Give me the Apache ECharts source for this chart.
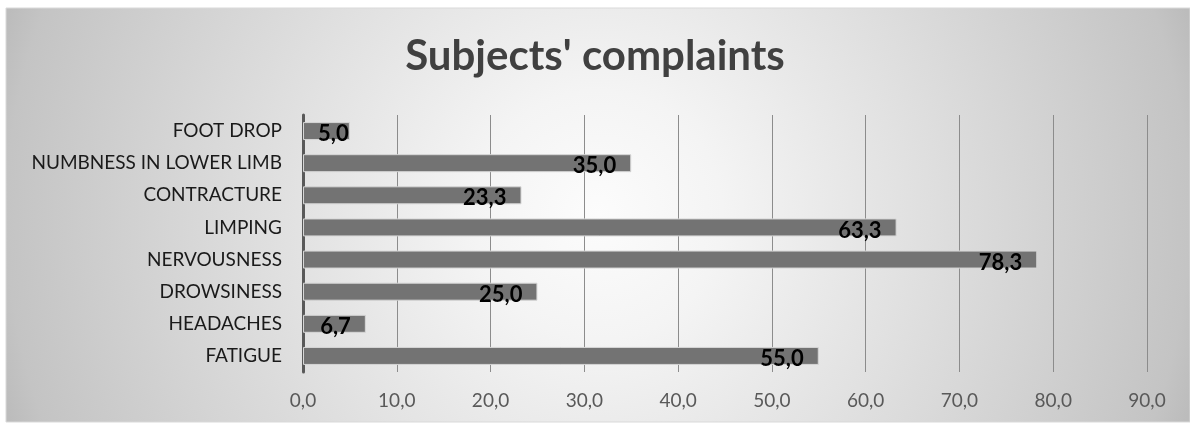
<!DOCTYPE html>
<html>
<head>
<meta charset="utf-8">
<style>
  html, body { margin: 0; padding: 0; background: #ffffff; }
  #chart { width: 1190px; height: 425px; }
</style>
<script src="https://cdn.jsdelivr.net/npm/echarts@6/dist/echarts.min.js"></script>
</head>
<body>
<div id="chart"></div>
<script>
// Complaint categories, listed top to bottom
const categories = [
  'FOOT DROP',
  'NUMBNESS IN LOWER LIMB',
  'CONTRACTURE',
  'LIMPING',
  'NERVOUSNESS',
  'DROWSINESS',
  'HEADACHES',
  'FATIGUE'
];
// Share of subjects reporting each complaint (%)
const values = [5.0, 35.0, 23.3, 63.3, 78.3, 25.0, 6.7, 55.0];
// Value axis range
const axisMin = 0;
const axisMax = 90;
const axisStep = 10;

const fmt = v => Number(v).toFixed(1).replace('.', ',');
const FONT = 'Lato, "Open Sans", sans-serif';

// Bars too short to hold their label with an inset get it anchored from the start
const barData = values.map(v => v < 6
  ? { value: v, label: { position: 'insideLeft' } }
  : v);

const chart = echarts.init(document.getElementById('chart'), null, { renderer: 'canvas' });

chart.setOption({
  backgroundColor: '#ffffff',
  animation: false,
  graphic: [{
    type: 'rect',
    z: -100,
    silent: true,
    shape: { x: 6, y: 8, width: 1184, height: 414 },
    style: {
      fill: new echarts.graphic.RadialGradient(0.5, 0.5, 1.5, [
        { offset: 0, color: '#fcfcfc' },
        { offset: 0.2, color: '#f4f4f4' },
        { offset: 0.5, color: '#e1e1e1' },
        { offset: 0.95, color: '#c4c4c4' },
        { offset: 1, color: '#bcbcbc' }
      ]),
      stroke: '#d9d9d9',
      lineWidth: 1
    }
  }],
  title: {
    text: "Subjects' complaints",
    left: 'center',
    top: 30,
    textStyle: {
      fontFamily: FONT,
      fontWeight: 'bold',
      fontSize: 42,
      color: '#404040'
    }
  },
  grid: {
    left: 303,
    right: 43,
    top: 115,
    bottom: 53,
    containLabel: false
  },
  xAxis: {
    type: 'value',
    min: axisMin,
    max: axisMax,
    interval: axisStep,
    axisLine: { show: false },
    axisTick: { show: false },
    splitLine: { show: true, lineStyle: { color: '#8c8c8c', width: 1 } },
    axisLabel: {
      formatter: fmt,
      margin: 19,
      fontFamily: FONT,
      fontSize: 19,
      color: '#595959'
    }
  },
  yAxis: {
    type: 'category',
    data: categories,
    inverse: true,
    axisLine: { show: true, lineStyle: { color: '#595959', width: 3 } },
    axisTick: { show: false },
    axisLabel: {
      margin: 21,
      fontFamily: FONT,
      fontSize: 19,
      color: '#1a1a1a'
    }
  },
  series: [{
    type: 'bar',
    data: barData,
    barWidth: '56%',
    itemStyle: {
      color: '#737373',
      borderColor: '#d6d6d6',
      borderWidth: 1
    },
    label: {
      show: true,
      position: 'insideRight',
      distance: 15,
      offset: [0, 3],
      formatter: p => fmt(p.value),
      fontFamily: FONT,
      fontWeight: 'bold',
      fontSize: 22,
      color: '#000000'
    }
  }]
});
</script>
</body>
</html>
